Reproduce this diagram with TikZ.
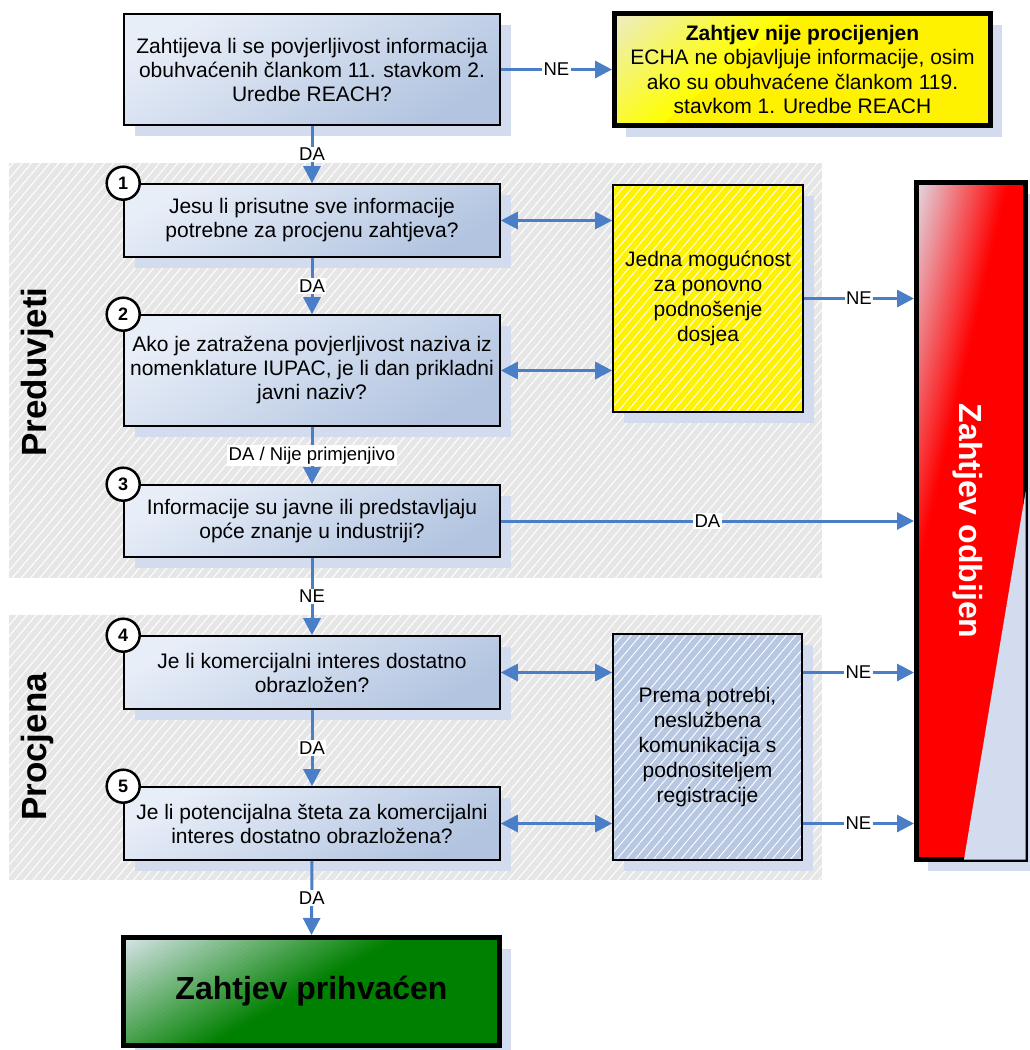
\documentclass[tikz,border=0pt]{standalone}
\usepackage{fontspec}
\setmainfont{Liberation Sans}
\usetikzlibrary{arrows.meta,patterns.meta,shadows,calc}
\definecolor{arrowblue}{HTML}{4A7EC7}
\definecolor{boxlight}{HTML}{E8EEF8}
\definecolor{boxdark}{HTML}{B2C4E0}
\definecolor{shadowblue}{HTML}{D3DCEE}
\definecolor{regiongray}{HTML}{E6E6E6}
\definecolor{hatchblue}{HTML}{B8C8E2}
\definecolor{yellowlight}{HTML}{ECECCC}
\definecolor{redlight}{HTML}{E2DCE6}
\definecolor{greenlight}{HTML}{DCE6EE}
\definecolor{darkgreen}{HTML}{008000}
\tikzset{
  shad/.style={drop shadow={shadow xshift=11pt, shadow yshift=-11pt, fill=shadowblue, opacity=1}},
  % #1 slant, #2 light colour, #3 full colour, #4 width of the fade, #5 height
  gradstrips/.style n args={5}{
    fill=#3,
    path picture={
      \foreach \i in {0,...,39}{
        \pgfmathsetmacro\ga{#4*\i/40}
        \pgfmathsetmacro\gb{#4*(\i+1)/40+0.7}
        \pgfmathsetmacro\gc{100-2.5*\i-1.25}
        \fill[#2!\gc!#3]
          ($(path picture bounding box.north west)+(\ga,-2)$) --
          ($(path picture bounding box.north west)+(\gb,-2)$) --
          ($(path picture bounding box.north west)+(\gb-#1*#5,#5)$) --
          ($(path picture bounding box.north west)+(\ga-#1*#5,#5)$) -- cycle;
      }}},
  qbox/.style={shad, draw=black, line width=1.6pt, minimum width=376pt, align=center,
    top color=boxlight, bottom color=boxdark, shading angle=30,
    font=\fontsize{21}{24}\selectfont, inner sep=2pt},
  numc/.style={circle, draw=black, line width=2.5pt, fill=white, minimum size=33pt, inner sep=0pt,
    font=\fontsize{18}{20}\selectfont\bfseries},
  hatchbox/.style={shad, draw=black, line width=1.6pt, align=center,
    font=\fontsize{21}{25}\selectfont,
    path picture={\fill[pattern={Lines[angle=50,distance=7pt,line width=0.9pt]}, pattern color=white]
      (path picture bounding box.south west) rectangle (path picture bounding box.north east);}},
  arr/.style={draw=arrowblue, line width=3pt, -{Triangle[length=17pt,width=17pt]}},
  darr/.style={draw=arrowblue, line width=3pt, {Triangle[length=17pt,width=17pt]}-{Triangle[length=17pt,width=17pt]}},
  lbl/.style={fill=white, inner sep=1.5pt, text=black, font=\fontsize{18.5}{20}\selectfont},
  region/.style={fill=regiongray},
  regionhatch/.style={pattern={Lines[angle=50,distance=7pt,line width=1pt]}, pattern color=white},
  seclabel/.style={rotate=90, font=\fontsize{35}{40}\selectfont\bfseries}
}
\begin{document}
\begin{tikzpicture}[x=1pt,y=-1pt]
\useasboundingbox[fill=white] (0,0) rectangle (1030,1050);

% section backgrounds
\fill[region] (9,163) rectangle (822,578);
\fill[regionhatch] (9,163) rectangle (822,578);
\fill[region] (9,615) rectangle (822,880);
\fill[regionhatch] (9,615) rectangle (822,880);

\node[seclabel] (lpre) at (37,372) {Preduvjeti};
\node[seclabel] (lproc) at (37,747) {Procjena};

% question boxes
\node[qbox, minimum height=111pt] (q0) at (312,69.5)
  {Zahtijeva li se povjerljivost informacija\\obuhvaćenih člankom 11. stavkom 2.\\Uredbe REACH?};
\node[qbox, minimum height=73pt] (q1) at (312,220.5)
  {Jesu li prisutne sve informacije\\potrebne za procjenu zahtjeva?};
\node[qbox, minimum height=111pt] (q2) at (312,370.5)
  {Ako je zatražena povjerljivost naziva iz\\nomenklature IUPAC, je li dan prikladni\\javni naziv?};
\node[qbox, minimum height=72pt] (q3) at (312,521)
  {Informacije su javne ili predstavljaju\\opće znanje u industriji?};
\node[qbox, minimum height=73pt] (q4) at (312,672.5)
  {Je li komercijalni interes dostatno\\obrazložen?};
\node[qbox, minimum height=73pt] (q5) at (312,823.5)
  {Je li potencijalna šteta za komercijalni\\interes dostatno obrazložena?};

% number circles
\node[numc] (c1) at (q1.north west) {1};
\node[numc] (c2) at (q2.north west) {2};
\node[numc] (c3) at (q3.north west) {3};
\node[numc] (c4) at (q4.north west) {4};
\node[numc] (c5) at (q5.north west) {5};

% top-right yellow box
\node[shad, draw=black, line width=5pt, minimum width=376pt, minimum height=112pt, align=center,
  gradstrips={1.2}{yellowlight}{yellow}{180}{120},
  font=\fontsize{21}{24.5}\selectfont] (ytop) at (802.5,69.5)
  {\textbf{Zahtjev nije procijenjen}\\ECHA ne objavljuje informacije, osim\\ako su obuhvaćene člankom 119.\\stavkom 1. Uredbe REACH};

% hatched side boxes
\node[hatchbox, fill=yellow, minimum width=190pt, minimum height=227pt] (hy) at (708,298.5)
  {Jedna mogućnost\\za ponovno\\podnošenje\\dosjea};
\node[hatchbox, fill=hatchblue, minimum width=189pt, minimum height=226pt] (hb) at (707.5,747)
  {Prema potrebi,\\neslužbena\\komunikacija s\\podnositeljem\\registracije};

% rejected box
\node[shad, draw=black, line width=5pt, minimum width=109pt, minimum height=677pt,
  gradstrips={0.232}{redlight}{red}{92}{690}]
  (red) at (971,521) {};
\fill[shadowblue] ($(red.north east)+(-2.5,312)$) -- ($(red.south east)+(-2.5,-2.5)$) -- ($(red.south east)+(-64,-2.5)$) -- cycle;
\node[rotate=-90, text=white, font=\fontsize{32}{34}\selectfont\bfseries] (redtext) at (968,521) {Zahtjev odbijen};

% accepted box
\node[shad, draw=black, line width=5pt, minimum width=376pt, minimum height=108pt,
  gradstrips={1.77}{greenlight}{darkgreen}{279}{115},
  font=\fontsize{32}{36}\selectfont\bfseries] (acc) at (311.5,991.5) {Zahtjev prihvaćen};

% connectors
\draw[arr] (q0.east) -- node[lbl]{NE} (ytop.west);
\draw[arr] (q0.south) -- node[lbl]{DA} (q1.north);
\draw[arr] (q1.south) -- node[lbl]{DA} (q2.north);
\draw[arr] (q2.south) -- node[lbl]{DA / Nije primjenjivo} (q3.north);
\draw[arr] (q3.south) -- node[lbl]{NE} (q4.north);
\draw[arr] (q4.south) -- node[lbl]{DA} (q5.north);
\draw[arr] (q5.south) -- node[lbl]{DA} (acc.north);

\draw[darr] (q1.east) -- (hy.west |- q1.east);
\draw[darr] (q2.east) -- (hy.west |- q2.east);
\draw[arr] (hy.east) -- node[lbl]{NE} (red.west |- hy.east);
\draw[arr] (q3.east) -- node[lbl]{DA} (red.west |- q3.east);

\draw[darr] (q4.east) -- (hb.west |- q4.east);
\draw[darr] (q5.east) -- (hb.west |- q5.east);
\draw[arr] (hb.east |- q4.east) -- node[lbl]{NE} (red.west |- q4.east);
\draw[arr] (hb.east |- q5.east) -- node[lbl]{NE} (red.west |- q5.east);
\end{tikzpicture}
\end{document}
